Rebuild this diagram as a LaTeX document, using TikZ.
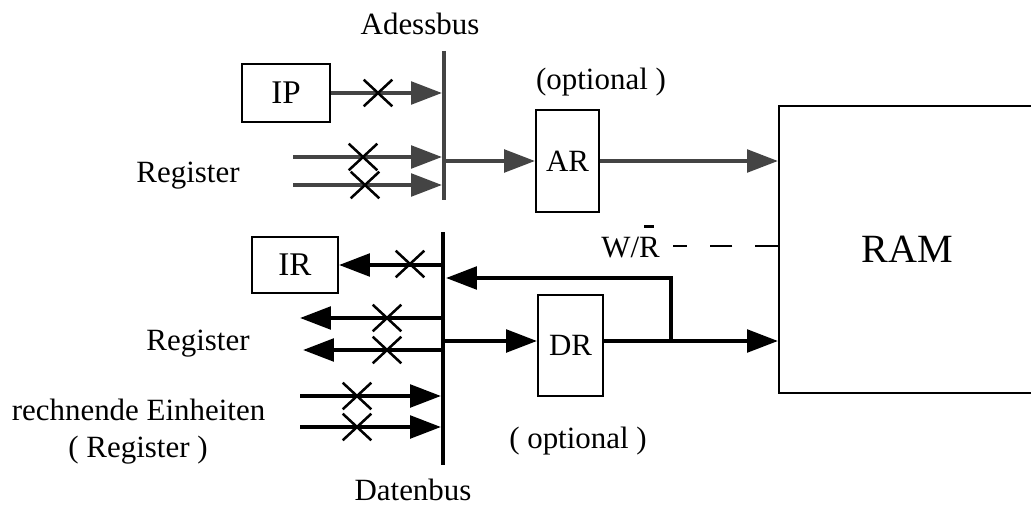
\documentclass[tikz,border=0pt]{standalone}
\usepackage{fontspec}
\setmainfont{Liberation Serif}
\usetikzlibrary{arrows.meta,shapes.misc}
\definecolor{busgray}{RGB}{68,68,68}
\begin{document}
\begin{tikzpicture}[x=0.025cm,y=-0.025cm,
  every node/.style={font=\fontsize{22}{26}\selectfont},
  box/.style={draw,line width=1.4pt,inner sep=0pt},
  abus/.style={draw=busgray,line width=2.8pt},
  dbus/.style={draw=black,line width=2.8pt},
  tip/.style={-{Triangle[length=22pt,width=16pt]}},
  xmark/.style={cross out,draw,line width=1.8pt,minimum width=0.65cm,minimum height=0.6cm,inner sep=0pt},
  lbl/.style={anchor=base,inner sep=0pt},
]
\useasboundingbox (0,0) rectangle (1031,505);

% --- boxes
\node[box,minimum width=2.2cm,minimum height=1.45cm,font=\fontsize{23.5}{28}\selectfont] (ip) at (286,93) {\raisebox{-5pt}{IP}};
\node[box,minimum width=1.575cm,minimum height=2.55cm] (ar) at (567.5,161) {AR};
\node[box,minimum width=2.15cm,minimum height=1.4cm,font=\fontsize{23.5}{28}\selectfont] (ir) at (295,265) {\raisebox{-5.5pt}{IR}};
\node[box,minimum width=1.625cm,minimum height=2.525cm] (dr) at (570.5,345.5) {DR};
\node[box,minimum width=6.4cm,minimum height=7.175cm,font=\fontsize{28.5}{34}\selectfont] (ram) at (907,249.5) {RAM};

% --- address bus
\coordinate (abT) at (444,51);
\coordinate (abB) at (444,200);
\draw[abus] (abT) -- (abB);

\coordinate (ipIn) at (442,93);
\draw[abus,tip] (ip.east) -- (ipIn);
\coordinate (rA1) at (293,157);
\coordinate (rA1in) at (442,157);
\draw[abus,tip] (rA1) -- (rA1in);
\coordinate (rA2) at (293,185);
\coordinate (rA2in) at (442,185);
\draw[abus,tip] (rA2) -- (rA2in);
\coordinate (abOut) at (444,161);
\draw[abus,tip] (abOut) -- (ar.west);
\draw[abus,tip] (ar.east) -- (ar.east -| ram.west);

% --- write/read line
\node[anchor=base east,inner sep=0pt] (wr) at (660,257)
  {W/\rlap{\hspace{0.17em}\rule[0.95em]{0.3em}{0.08em}}R};
\coordinate (wrEnd) at (673,246);
\draw[line width=1.6pt,dash pattern=on 16pt off 16.5pt] (ram.west |- wrEnd) -- (wrEnd);

% --- data bus
\coordinate (dbT) at (443,232);
\coordinate (dbB) at (443,465);
\draw[dbus] (dbT) -- (dbB);

\coordinate (irOut) at (445,265);
\draw[dbus,tip] (irOut) -- (ir.east);
\coordinate (rL1) at (445,318);
\coordinate (rL1e) at (300,318);
\draw[dbus,tip] (rL1) -- (rL1e);
\coordinate (rL2) at (445,350);
\coordinate (rL2e) at (303,350);
\draw[dbus,tip] (rL2) -- (rL2e);
\coordinate (rE1) at (300,396);
\coordinate (rE1in) at (441,396);
\draw[dbus,tip] (rE1) -- (rE1in);
\coordinate (rE2) at (300,427);
\coordinate (rE2in) at (441,427);
\draw[dbus,tip] (rE2) -- (rE2in);

\coordinate (drIn) at (445,341);
\draw[dbus,tip] (drIn) -- (drIn -| dr.west);
\draw[dbus,tip] (drIn -| dr.east) -- (drIn -| ram.west);
\coordinate (fb) at (671,341);
\coordinate (fbIn) at (446,278);
\draw[dbus,tip] (fb) |- (fbIn);

% --- crossings on the lines
\node[xmark] (x1) at (378,93) {};
\node[xmark] (x2) at (363,157) {};
\node[xmark] (x3) at (365,185) {};
\node[xmark] (x4) at (410,264) {};
\node[xmark] (x5) at (387,318) {};
\node[xmark] (x6) at (387,350) {};
\node[xmark] (x7) at (357,396) {};
\node[xmark] (x8) at (357,427) {};

% --- labels
\node[lbl] (adr) at (420,35) {Adessbus};
\node[lbl] (opt1) at (601,90) {(optional )};
\node[lbl] (regA) at (188,182) {Register};
\node[lbl] (regD) at (198,350) {Register};
\node[lbl] (rech) at (138.5,420) {rechnende Einheiten};
\node[lbl] (rech2) at (138,457) {( Register )};
\node[lbl] (dat) at (413,500) {Datenbus};
\node[lbl] (opt2) at (578,448) {( optional )};
\end{tikzpicture}
\end{document}
